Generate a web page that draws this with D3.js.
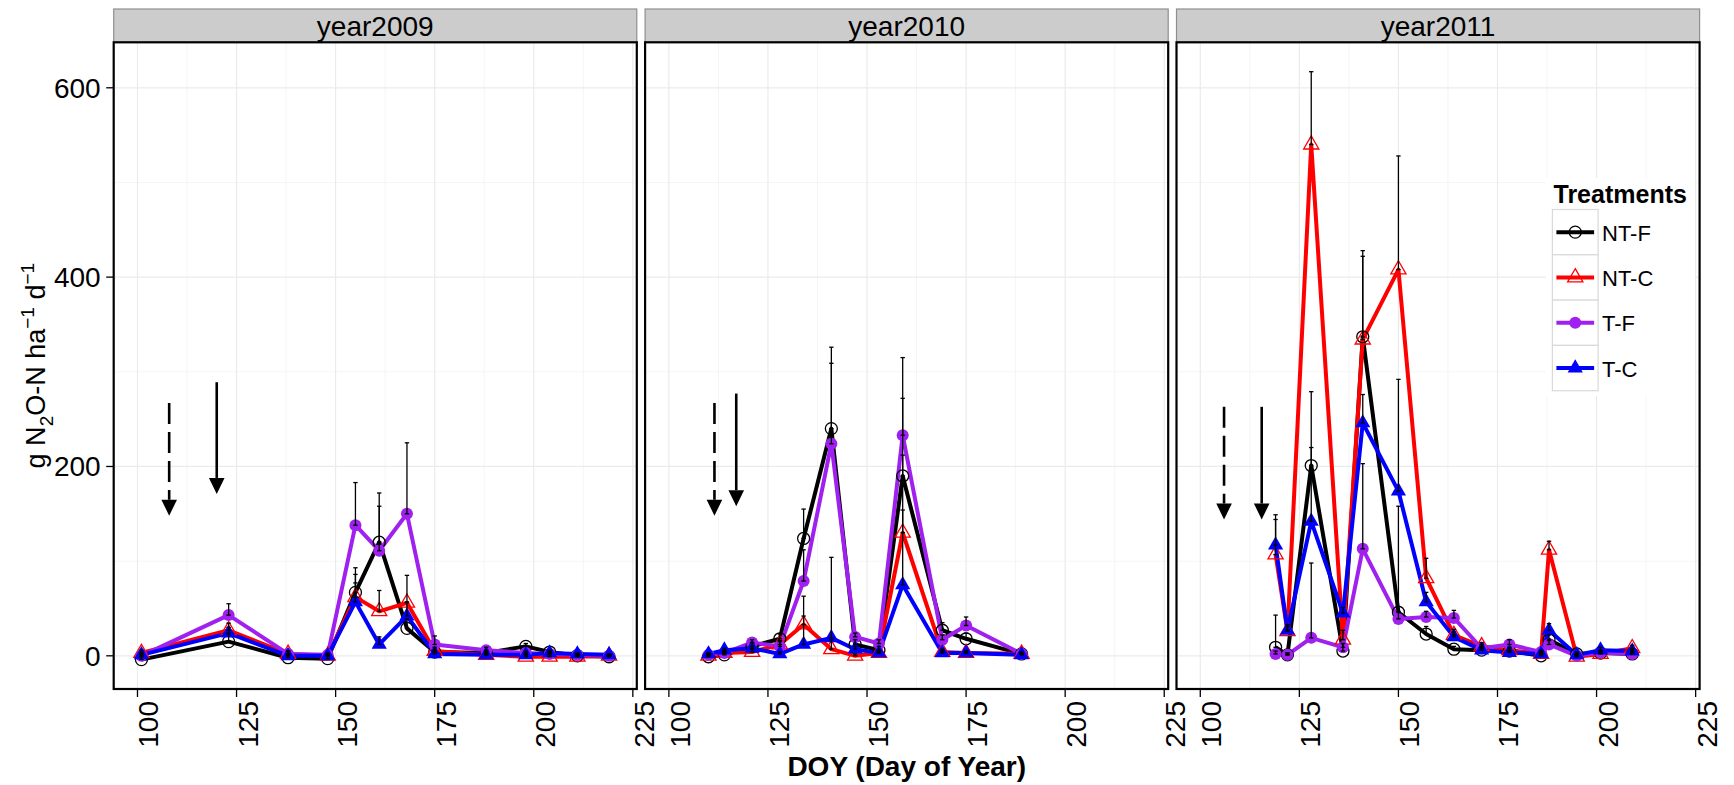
<!DOCTYPE html>
<html>
<head>
<meta charset="utf-8">
<script src="https://cdn.jsdelivr.net/npm/d3@7"></script>
<style>
  body { margin: 0; background: #fff; }
  svg { display: block; }
  text { font-family: "Liberation Sans", Arial, Helvetica, sans-serif; fill: #000; }
</style>
</head>
<body>
<svg id="chart" width="1734" height="785"></svg>
<script>
// ---------------- data ----------------
const YEARS = ["year2009", "year2010", "year2011"];
const TREATMENTS = ["NT-F", "NT-C", "T-F", "T-C"];
const X_LIMITS = [100, 220];
const X_TICKS = [100, 125, 150, 175, 200, 225];
const Y_TICKS = [0, 200, 400, 600];

// 2009 sampling dates, means and standard errors (g N2O-N ha-1 d-1)
const doy2009 = [101, 123, 138, 148, 155, 161, 168, 175, 188, 198, 204, 211, 219];
const ntf2009 = [-4, 15, -2, -3, 67, 120, 29, 4, 3, 10, 4, 0, -1];
const ntc2009 = [3, 27, 2, 0, 62, 47, 56, 5, 1, -1, -1, -1, 0];
const tf2009  = [0, 43, 2, 1, 138, 111, 150, 12, 6, 3, 2, 1, 0];
const tc2009  = [1, 24, 0, 0, 57, 12, 42, 2, 1, 1, 3, 2, 1];
const ntfSe2009 = [3, 8, 4, 3, 26, 52, 10, 3, 2, 3, 2, 1, 1];
const ntcSe2009 = [3, 7.5, 3, 2, 24, 22, 29, 4, 2, 2, 2, 1, 1];
const tfSe2009  = [2, 12, 3, 2, 45, 47, 75, 9, 3, 2, 2, 1, 1];
const tcSe2009  = [2, 6, 2, 1, 20, 8, 15, 2, 1, 1, 1, 1, 1];

// 2010
const doy2010 = [110, 114, 121, 128, 134, 141, 147, 153, 159, 169, 175, 189];
const ntf2010 = [-1, 1, 10, 18, 124, 240, 12, 6, 190, 27, 18, 2];
const ntc2010 = [0, 3, 4, 12, 33, 7, 0, 3, 130, 4, 3, 2];
const tf2010  = [1, 3, 14, 10, 79, 224, 20, 13, 233, 17, 32, 2];
const tc2010  = [2, 6, 8, 2, 12, 19, 7, 3, 75, 3, 3, 1];
const ntfSe2010 = [2, 2, 4, 5, 31, 86, 5, 4, 82, 8, 6, 2];
const ntcSe2010 = [1, 2, 3, 4, 30, 10, 2, 2, 82, 3, 2, 1];
const tfSe2010  = [2, 2, 3, 5, 33, 85, 4, 4, 82, 5, 9, 1];
const tcSe2010  = [1, 2, 2, 2, 30, 85, 3, 2, 79, 2, 2, 1];

// 2011
const doy2011 = [119, 122, 128, 136, 141, 150, 157, 164, 171, 178, 186, 188, 195, 201, 209];
const ntf2011 = [9, 1, 201, 5, 337, 46, 23, 7, 6, 5, 0, 17, 2, 3, 2];
const ntc2011 = [107, 26, 540, 17, 334, 408, 82, 22, 10, 6, 2, 112, -1, 2, 8];
const tf2011  = [2, 1, 19, 9, 113, 39, 41, 40, 8, 12, 4, 12, 0, 3.5, 2];
const tc2011  = [117, 27, 142, 45, 246, 174, 57, 20, 6, 3.5, 2, 27, 1, 6, 5];
const ntfSe2011 = [34, 2, 78, 8, 91, 112, 8, 3, 3, 3, 2, 5, 2, 2, 2];
const ntcSe2011 = [37, 5, 77, 10, 88, 120, 21, 6, 4, 3, 2, 9, 2, 2, 3];
const tfSe2011  = [3, 2, 79, 4, 90, 8, 6, 8, 4, 5, 2, 4, 1, 2, 2];
const tcSe2011  = [32, 6, 78, 6, 30, 118, 10, 5, 3, 2, 2, 7, 2, 3, 2];

// management events per year (dashed and solid arrows), in DOY and flux units
const arrowDashedDoy  = [108, 111.5, 106];
const arrowDashedFrom = [267, 267, 263];
const arrowDashedTo   = [148, 148, 144];
const arrowSolidDoy   = [120, 117, 115.5];
const arrowSolidFrom  = [289, 277, 263];
const arrowSolidTo    = [171, 158, 144];

// ---------------- styles ----------------
const COLORS = ["#000000", "#ff0000", "#a020f0", "#0000ff"];
const SHAPES = ["circle", "triangle", "circle", "triangle"];
const FILLED = [false, false, true, true];

const panels = [
  { doy: doy2009, mean: [ntf2009, ntc2009, tf2009, tc2009], se: [ntfSe2009, ntcSe2009, tfSe2009, tcSe2009] },
  { doy: doy2010, mean: [ntf2010, ntc2010, tf2010, tc2010], se: [ntfSe2010, ntcSe2010, tfSe2010, tcSe2010] },
  { doy: doy2011, mean: [ntf2011, ntc2011, tf2011, tc2011], se: [ntfSe2011, ntcSe2011, tfSe2011, tcSe2011] }
];

// ---------------- layout ----------------
const STRIP_TOP = 9, PLOT_TOP = 42.3, PLOT_BOTTOM = 689;
const PANEL_LEFT0 = 113.7, PANEL_GAP = 8.3, PANEL_W = 523.1;

function expand([a, b]) { const r = b - a; return [a - 0.05 * r, b + 0.05 * r]; }

const lows = [], highs = [];
panels.forEach(p => p.mean.forEach((m, k) => m.forEach((v, j) => { lows.push(v); highs.push(v + p.se[k][j]); })));
const y = d3.scaleLinear().domain(expand([d3.min(lows), d3.max(highs)])).range([PLOT_BOTTOM, PLOT_TOP]);

const svg = d3.select("#chart");
const symCircle = d3.symbol().type(d3.symbolCircle).size(Math.PI * 36);
const symTriangle = d3.symbol().type(d3.symbolTriangle).size(100);

function drawSymbol(g, k, cx, cy) {
  const path = SHAPES[k] === "circle" ? symCircle() : symTriangle();
  g.append("path")
    .attr("d", path)
    .attr("transform", `translate(${cx},${cy})`)
    .attr("fill", FILLED[k] ? COLORS[k] : "none")
    .attr("stroke", COLORS[k])
    .attr("stroke-width", FILLED[k] ? 0 : 1.3);
}

function drawArrow(g, x, yFrom, yTo, dashed) {
  const headLen = 16, headHalf = 7.8;
  g.append("line")
    .attr("x1", x).attr("x2", x)
    .attr("y1", yFrom).attr("y2", yTo - headLen)
    .attr("stroke", "#000").attr("stroke-width", 2.6)
    .attr("stroke-dasharray", dashed ? "21,8" : null);
  g.append("path")
    .attr("d", `M${x},${yTo} L${x - headHalf},${yTo - headLen} L${x + headHalf},${yTo - headLen} Z`)
    .attr("fill", "#000");
}

panels.forEach((p, i) => {
  const left = PANEL_LEFT0 + i * (PANEL_W + PANEL_GAP);
  const x = d3.scaleLinear().domain(expand(X_LIMITS)).range([left, left + PANEL_W]);
  const g = svg.append("g");

  // facet strip
  g.append("rect")
    .attr("x", left).attr("y", STRIP_TOP)
    .attr("width", PANEL_W).attr("height", PLOT_TOP - STRIP_TOP)
    .attr("fill", "#cccccc").attr("stroke", "#8f8f8f").attr("stroke-width", 1.2);
  g.append("text")
    .attr("x", left + PANEL_W / 2).attr("y", (STRIP_TOP + PLOT_TOP) / 2 + 10)
    .attr("text-anchor", "middle").attr("font-size", 28)
    .text(YEARS[i]);

  // panel background and grid
  g.append("rect")
    .attr("x", left).attr("y", PLOT_TOP)
    .attr("width", PANEL_W).attr("height", PLOT_BOTTOM - PLOT_TOP)
    .attr("fill", "#fff");
  const xMinor = d3.range(112.5, 225, 25);
  const yMinor = [100, 300, 500];
  g.selectAll(null).data(xMinor).join("line")
    .attr("x1", d => x(d)).attr("x2", d => x(d))
    .attr("y1", PLOT_TOP).attr("y2", PLOT_BOTTOM)
    .attr("stroke", "#f5f5f5").attr("stroke-width", 1);
  g.selectAll(null).data(yMinor).join("line")
    .attr("x1", left).attr("x2", left + PANEL_W)
    .attr("y1", d => y(d)).attr("y2", d => y(d))
    .attr("stroke", "#f5f5f5").attr("stroke-width", 1);
  g.selectAll(null).data(X_TICKS).join("line")
    .attr("x1", d => x(d)).attr("x2", d => x(d))
    .attr("y1", PLOT_TOP).attr("y2", PLOT_BOTTOM)
    .attr("stroke", "#ebebeb").attr("stroke-width", 1.2);
  g.selectAll(null).data(Y_TICKS).join("line")
    .attr("x1", left).attr("x2", left + PANEL_W)
    .attr("y1", d => y(d)).attr("y2", d => y(d))
    .attr("stroke", "#ebebeb").attr("stroke-width", 1.2);

  // series lines
  const line = d3.line().x(d => x(d[0])).y(d => y(d[1]));
  p.mean.forEach((m, k) => {
    const pts = p.doy.map((d, j) => [d, m[j]]);
    g.append("path")
      .attr("d", line(pts))
      .attr("fill", "none").attr("stroke", COLORS[k])
      .attr("stroke-width", 4).attr("stroke-linejoin", "round");
  });

  // points
  p.mean.forEach((m, k) => {
    p.doy.forEach((d, j) => drawSymbol(g, k, x(d), y(m[j])));
  });

  // error bars (mean to mean + SE)
  p.mean.forEach((m, k) => {
    p.doy.forEach((d, j) => {
      const cx = x(d), y0 = y(m[j]), y1 = y(m[j] + p.se[k][j]);
      g.append("line").attr("x1", cx).attr("x2", cx).attr("y1", y0).attr("y2", y1)
        .attr("stroke", "#000").attr("stroke-width", 1.3);
      [y0, y1].forEach(yy => g.append("line")
        .attr("x1", cx - 2.2).attr("x2", cx + 2.2).attr("y1", yy).attr("y2", yy)
        .attr("stroke", "#000").attr("stroke-width", 1.3));
    });
  });

  // management arrows
  drawArrow(g, x(arrowDashedDoy[i]), y(arrowDashedFrom[i]), y(arrowDashedTo[i]), true);
  drawArrow(g, x(arrowSolidDoy[i]), y(arrowSolidFrom[i]), y(arrowSolidTo[i]), false);

  // panel border
  g.append("rect")
    .attr("x", left).attr("y", PLOT_TOP)
    .attr("width", PANEL_W).attr("height", PLOT_BOTTOM - PLOT_TOP)
    .attr("fill", "none").attr("stroke", "#000").attr("stroke-width", 2.2);

  // x ticks and rotated labels
  g.selectAll(null).data(X_TICKS).join("line")
    .attr("x1", d => x(d)).attr("x2", d => x(d))
    .attr("y1", PLOT_BOTTOM).attr("y2", PLOT_BOTTOM + 8)
    .attr("stroke", "#000").attr("stroke-width", 1.3);
  g.selectAll(null).data(X_TICKS).join("text")
    .attr("transform", d => `translate(${x(d) + 21},701) rotate(-90)`)
    .attr("text-anchor", "end").attr("font-size", 28)
    .text(d => d);

  // y axis on the first panel only
  if (i === 0) {
    g.selectAll(null).data(Y_TICKS).join("line")
      .attr("x1", left - 7.5).attr("x2", left)
      .attr("y1", d => y(d)).attr("y2", d => y(d))
      .attr("stroke", "#000").attr("stroke-width", 1.3);
    g.selectAll(null).data(Y_TICKS).join("text")
      .attr("x", left - 13).attr("y", d => y(d) + 10)
      .attr("text-anchor", "end").attr("font-size", 28)
      .text(d => d);
  }
});

// axis titles
svg.append("text")
  .attr("x", (PANEL_LEFT0 + 1699.7) / 2).attr("y", 776)
  .attr("text-anchor", "middle").attr("font-size", 28).attr("font-weight", "bold")
  .text("DOY (Day of Year)");

const yTitle = svg.append("text")
  .attr("transform", `translate(45,${(PLOT_TOP + PLOT_BOTTOM) / 2}) rotate(-90)`)
  .attr("text-anchor", "middle").attr("font-size", 27);
yTitle.append("tspan").text("g N");
yTitle.append("tspan").attr("font-size", 19).attr("dy", 8).text("2");
yTitle.append("tspan").attr("dy", -8).text("O-N ha");
yTitle.append("tspan").attr("font-size", 19).attr("dy", -11).text("\u22121");
yTitle.append("tspan").attr("dy", 11).text(" d");
yTitle.append("tspan").attr("font-size", 19).attr("dy", -11).text("\u22121");

// legend inside the last panel
const lg = svg.append("g");
const LG_X = 1546, LG_Y = 178;
lg.append("rect").attr("x", LG_X).attr("y", LG_Y).attr("width", 149).attr("height", 218).attr("fill", "#fff");
lg.append("text").attr("x", 1553.5).attr("y", 203.3)
  .attr("font-size", 25).attr("font-weight", "bold").text("Treatments");
TREATMENTS.forEach((t, k) => {
  const ky = 209.5 + k * 45.3, kx = 1552.4, kw = 45.7, kh = 45.3;
  const cy = ky + kh / 2;
  lg.append("rect").attr("x", kx).attr("y", ky).attr("width", kw).attr("height", kh)
    .attr("fill", "#fff").attr("stroke", "#d9d9d9").attr("stroke-width", 1.2);
  lg.append("line").attr("x1", kx + 4).attr("x2", kx + kw - 4).attr("y1", cy).attr("y2", cy)
    .attr("stroke", COLORS[k]).attr("stroke-width", 4);
  drawSymbol(lg, k, kx + kw / 2, cy);
  lg.append("text").attr("x", 1602).attr("y", cy + 8.5).attr("font-size", 22).text(t);
});
</script>
</body>
</html>
